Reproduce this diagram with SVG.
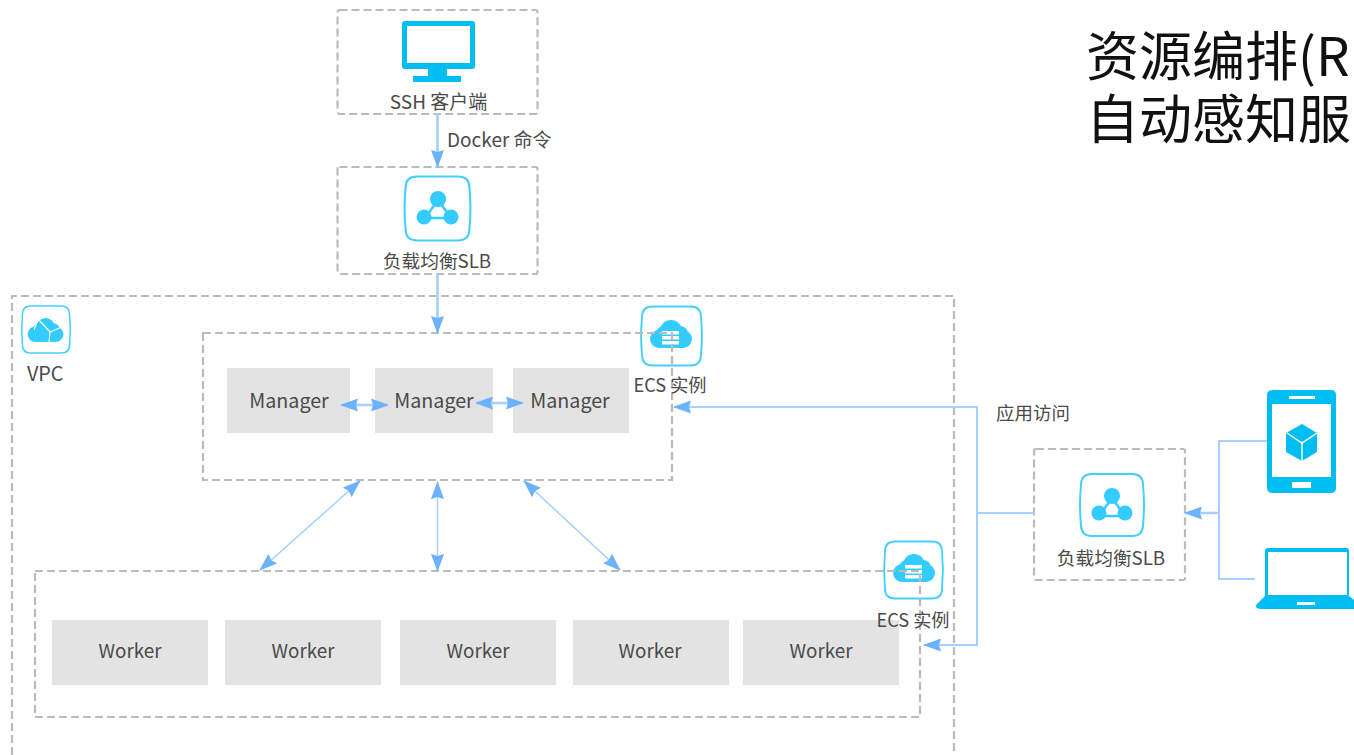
<svg xmlns="http://www.w3.org/2000/svg" width="1354" height="755" viewBox="0 0 1354 755">
<defs>
<style>
text{font-family:"Noto Sans CJK SC","Noto Sans",sans-serif;fill:#4a4a4a;font-size:18.700px}
.c{text-anchor:middle}
.m{font-size:19.700px}
.k{font-size:18.800px}
.e{font-size:18.200px}
.d{fill:none;stroke:#bbb;stroke-width:2.200;stroke-dasharray:8 4}
.g{fill:#e3e3e3}
.l{fill:none;stroke:#a6d0ff;stroke-width:2}
.h{stroke-width:2.700}
.s{stroke-width:1.500}
.t{font-size:53px;fill:#111}
.b{fill:#00bdf2}
.i{fill:#33ccff}
.f{fill:#fff;stroke:#44d0ff;stroke-width:2}
.n{stroke:#33ccff;stroke-width:2.500;fill:none}
.w{fill:#fff}
.wl{fill:none;stroke:#fff;stroke-width:1.200}
</style>
<marker id="a" viewBox="0 0 18 13" refX="17" refY="6.500" markerWidth="18" markerHeight="13" markerUnits="userSpaceOnUse" orient="auto-start-reverse"><path d="M0 0L18 6.500L0 13L2 6.500Z" fill="#6cb2ff"/></marker>
<path id="sq" d="M-20-31H20Q31-31 31-20Q33 0 31 20Q31 31 20 31H-20Q-31 31-31 20Q-33 0-31-20Q-31-31-20-31Z"/>
<g id="cloud"><circle cx="-12" cy="5" r="9" class="i"/><circle cx="12" cy="5" r="9" class="i"/><circle cx="0" cy="-3" r="11" class="i"/><circle cx="-7" cy="0" r="8" class="i"/><circle cx="9" cy="0" r="8" class="i"/><rect x="-12" y="2" width="24" height="12" class="i"/></g>
<g id="srv"><rect x="-9" y="-3" width="17" height="3.500" class="w"/><rect x="-9" y="2" width="17" height="3.500" class="w"/><rect x="-9" y="7" width="17" height="3.500" class="w"/></g>
</defs>
<rect width="1354" height="755" fill="#fff"/>
<g id="title"><text class="t" x="1086" y="76">资源编排(R</text><text class="t" x="1086" y="139">自动感知服</text></g>
<g id="vpc"><path class="d" d="M12 755V296H954V755"/><use href="#sq" class="f" transform="translate(46 329.500) scale(.76)"/><use href="#cloud" transform="translate(45.500 330) scale(.85)"/><path class="wl" d="M38 319L50 332L62 327M50 332L49 342M34 330L38 319"/><text class="m" x="27" y="381">VPC</text></g>
<g id="ssh"><rect class="d" x="337.500" y="10" width="200" height="104" rx="2"/><path class="b" fill-rule="evenodd" d="M405 21H472Q475 21 475 24V66Q475 69 472 69H447V76H461V82H413V76H428V69H405Q402 69 402 66V24Q402 21 405 21ZM407 26V63H470V26Z"/><text class="c" x="438.500" y="109" style="font-size:19px">SSH 客户端</text></g>
<g id="slb-top"><rect class="d" x="337.500" y="167" width="200" height="107" rx="2"/><use href="#sq" class="f" transform="translate(437.500 208.500) scale(1.030)"/><path class="n" d="M438 200L425 218H451Z"/><circle class="i" cx="438" cy="199" r="8"/><circle class="i" cx="424" cy="217" r="7.500"/><circle class="i" cx="451" cy="217" r="7.500"/><text class="c" x="437" y="268">负载均衡SLB</text></g>
<g id="manager1"><rect class="g" x="227" y="368" width="123" height="65"/><text class="c m" x="289" y="408">Manager</text></g>
<g id="manager2"><rect class="g" x="375" y="368" width="118" height="65"/><text class="c m" x="434" y="408">Manager</text></g>
<g id="manager3"><rect class="g" x="513" y="368" width="116" height="65"/><text class="c m" x="570" y="408">Manager</text></g>
<g id="ecs-manager"><use href="#sq" class="f" transform="translate(671.500 336) scale(.95)"/><use href="#cloud" transform="translate(671 334)"/><use href="#srv" transform="translate(671 334)"/><rect class="d" x="203" y="333" width="469" height="147"/><text class="c e" x="670" y="392">ECS 实例</text></g>
<g id="worker1"><rect class="g" x="52" y="620" width="156" height="65"/><text class="c k" x="130" y="658">Worker</text></g>
<g id="worker2"><rect class="g" x="225" y="620" width="156" height="65"/><text class="c k" x="303" y="658">Worker</text></g>
<g id="worker3"><rect class="g" x="400" y="620" width="156" height="65"/><text class="c k" x="478" y="658">Worker</text></g>
<g id="worker4"><rect class="g" x="573" y="620" width="156" height="65"/><text class="c k" x="650" y="658">Worker</text></g>
<g id="worker5"><rect class="g" x="743" y="620" width="156" height="65"/><text class="c k" x="821" y="658">Worker</text></g>
<g id="ecs-worker"><use href="#sq" class="f" transform="translate(913.500 570) scale(.92)"/><use href="#cloud" transform="translate(914 568)"/><use href="#srv" transform="translate(914 568)"/><rect class="d" x="35" y="571" width="885" height="146"/><text class="c e" x="913" y="627">ECS 实例</text></g>
<g id="slb-right"><rect class="d" x="1034" y="449" width="151" height="131" rx="2"/><use href="#sq" class="f" transform="translate(1112 505)"/><path class="n" d="M1112 498L1099 516H1125Z"/><circle class="i" cx="1112" cy="496" r="8"/><circle class="i" cx="1099" cy="513" r="7.500"/><circle class="i" cx="1125" cy="513" r="7.500"/><text class="c" x="1111" y="565">负载均衡SLB</text></g>
<g id="phone"><path class="b" fill-rule="evenodd" d="M1273 390H1331Q1336 390 1336 395V488Q1336 493 1331 493H1273Q1267 493 1267 488V395Q1267 390 1273 390ZM1272 404V477H1331V404ZM1289 396V399H1315V396ZM1292 482V488H1311V482Z"/><path class="b" d="M1302 424L1317 433V452L1302 461L1286 452V433Z"/><path d="M1287 433L1302 443L1317 433M1302 443V461" fill="none" stroke="#fff" stroke-width="1.500"/></g>
<g id="laptop"><path class="b" fill-rule="evenodd" d="M1268 548H1346Q1349 548 1349 551V596L1354 600V609H1260Q1254 608 1257 604L1265 596V551Q1265 548 1268 548ZM1268 552V595H1347V552ZM1297 602V605H1315V602Z"/></g>
<g id="connectors">
<path class="l h" d="M437.500 114V167" marker-end="url(#a)"/>
<path class="l h" d="M437.500 274V333" marker-end="url(#a)"/>
<path class="l h" d="M341 405H388" marker-start="url(#a)" marker-end="url(#a)"/>
<path class="l h" d="M476 403H523" marker-start="url(#a)" marker-end="url(#a)"/>
<path class="l s" d="M360 481L260 570" marker-start="url(#a)" marker-end="url(#a)"/>
<path class="l s" d="M437.500 482V571" marker-start="url(#a)" marker-end="url(#a)"/>
<path class="l s" d="M524 481L620 570" marker-start="url(#a)" marker-end="url(#a)"/>
<path class="l" d="M1034 513H977V407H674" marker-end="url(#a)"/>
<path class="l" d="M977 513V645H924" marker-end="url(#a)"/>
<path class="l h" d="M1219 513H1185" marker-end="url(#a)"/>
<path class="l" d="M1267 441H1219V579H1255"/>
<text x="447" y="147" style="font-size:19px">Docker 命令</text>
<text x="996" y="420" style="font-size:18.500px">应用访问</text>
</g>
</svg>
